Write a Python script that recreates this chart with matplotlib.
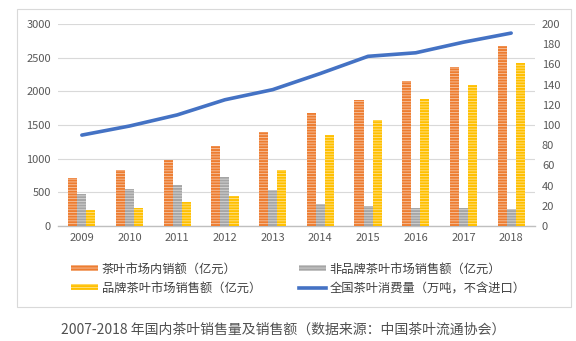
import matplotlib
matplotlib.use("Agg")
import matplotlib.pyplot as plt
import numpy as np
from matplotlib.patches import Rectangle, Patch
from matplotlib.lines import Line2D

plt.rcParams['font.family'] = ['Noto Sans CJK SC', 'DejaVu Sans']
plt.rcParams['hatch.linewidth'] = 0.6

years = ['2009', '2010', '2011', '2012', '2013', '2014', '2015', '2016', '2017', '2018']
domestic_sales = [715, 835, 975, 1185, 1395, 1675, 1875, 2160, 2365, 2680]
nonbrand_sales = [480, 555, 615, 735, 540, 325, 300, 265, 265, 250]
brand_sales = [240, 265, 355, 440, 835, 1350, 1580, 1890, 2095, 2420]
consumption = [90, 99, 110, 125, 135, 151, 168, 171.5, 182, 191]

names = ['茶叶市场内销额（亿元）', '非品牌茶叶市场销售额（亿元）',
         '品牌茶叶市场销售额（亿元）', '全国茶叶消费量（万吨，不含进口）']
caption = '2007-2018 年国内茶叶销售量及销售额（数据来源：中国茶叶流通协会）'

c_orange = '#ED7D31'
c_gray = '#A5A5A5'
c_yellow = '#FFC000'
c_line = '#4472C4'
tick_c = '#595959'
hatch_c = (1, 1, 1, 0.55)

W, H = 576, 341
fig = plt.figure(figsize=(W/100, H/100), dpi=100)

# outer chart border
fig.patches.append(Rectangle((17/W, 1-307/H), (571-17)/W, (307-9)/H,
                             transform=fig.transFigure, fill=False,
                             edgecolor='#D9D9D9', linewidth=0.8))

ax = fig.add_axes([58/W, 1-226/H, (535-58)/W, (226-24)/H])
x = np.arange(len(years))
bw = 0.19
for off, vals, col in [(-bw, domestic_sales, c_orange), (0, nonbrand_sales, c_gray), (bw, brand_sales, c_yellow)]:
    ax.bar(x + off, vals, bw, color=col, edgecolor=hatch_c, linewidth=0, hatch='------', zorder=3)

ax.set_xlim(-0.5, len(years) - 0.5)
ax.set_ylim(0, 3000)
ax.set_yticks(np.arange(0, 3001, 500))
ax.set_xticks(x)
ax.set_xticklabels(years)
ax.grid(axis='y', color='#D9D9D9', linewidth=0.8, zorder=0)
for s in ['top', 'right', 'left']:
    ax.spines[s].set_visible(False)
ax.spines['bottom'].set_color('#BFBFBF')
ax.spines['bottom'].set_linewidth(1.0)
ax.tick_params(axis='both', length=0, labelsize=8, colors=tick_c, pad=5)

ax2 = ax.twinx()
ax2.plot(x, consumption, color=c_line, linewidth=2.6, solid_capstyle='round', zorder=4)
ax2.set_ylim(0, 200)
ax2.set_yticks(np.arange(0, 201, 20))
for s in ax2.spines.values():
    s.set_visible(False)
ax2.tick_params(axis='y', length=0, labelsize=8, colors=tick_c, pad=5)

h_orange = Patch(facecolor=c_orange, edgecolor=hatch_c, linewidth=0, hatch='------')
h_yellow = Patch(facecolor=c_yellow, edgecolor=hatch_c, linewidth=0, hatch='------')
h_gray = Patch(facecolor=c_gray, edgecolor=hatch_c, linewidth=0, hatch='------')
h_line = Line2D([], [], color=c_line, linewidth=2.6)

common = dict(loc='center left', frameon=False, fontsize=8.8, handlelength=2.2,
              handleheight=0.45, handletextpad=0.3, labelspacing=0.5, borderpad=0,
              borderaxespad=0)
leg1 = fig.legend([h_orange, h_yellow], [names[0], names[2]],
                  bbox_to_anchor=(71/W, 1-278.5/H), **common)
leg2 = fig.legend([h_gray, h_line], [names[1], names[3]],
                  bbox_to_anchor=(299/W, 1-278.5/H), **common)
for leg in (leg1, leg2):
    for t in leg.get_texts():
        t.set_color('#404040')

fig.text(61/W, 1-330/H, caption, fontsize=10, color='#505050', ha='left', va='center')

fig.savefig('out.png', dpi=100)
